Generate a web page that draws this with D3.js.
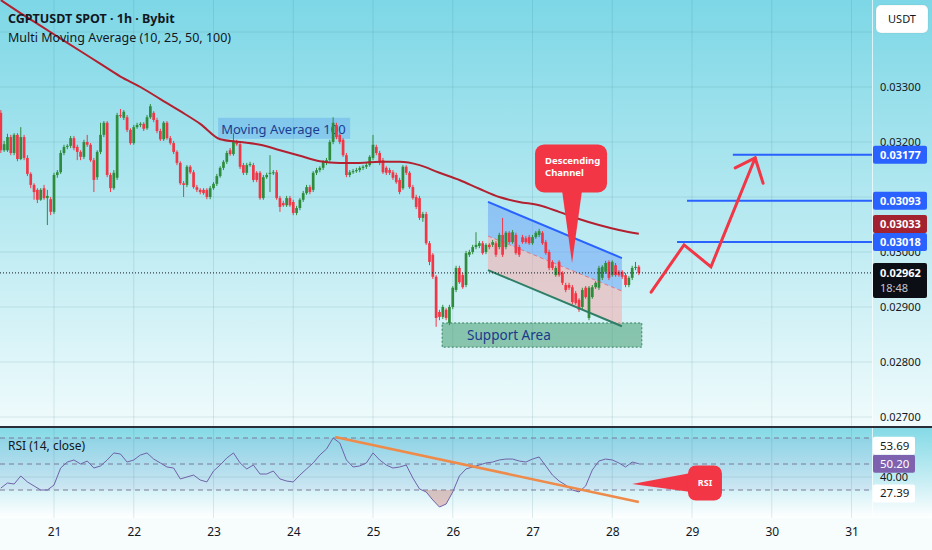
<!DOCTYPE html>
<html>
<head>
<meta charset="utf-8">
<script src="https://cdn.jsdelivr.net/npm/d3@7"></script>
<style>
  html, body { margin: 0; padding: 0; background: #fff; }
  svg { display: block; font-family: "Noto Sans", sans-serif; }
</style>
</head>
<body>
<svg id="chart" width="932" height="550"></svg>
<script>
// all prices are in units of 0.00001 USDT, one candle per hour from the 20th, 08:00
const firstCandle = Date.UTC(2025, 6, 20, 8);

const opens = [
  3253,3185,3185,3209,3180,3213,3169,3209,3171,3142,
  3122,3113,3095,3116,3098,3096,3073,3140,3145,3180,
  3191,3193,3207,3191,3182,3173,3200,3195,3167,3136,
  3182,3213,3235,3140,3116,3135,3249,3244,3245,3222,
  3198,3227,3231,3233,3225,3245,3253,3240,3220,3205,
  3235,3207,3198,3182,3162,3125,3122,3155,3145,3118,
  3113,3113,3113,3100,3116,3124,3138,3153,3164,3185,
  3178,3200,3196,3158,3144,3158,3158,3144,3144,3098,
  3136,3142,3144,3145,3098,3089,3085,3098,3091,3071,
  3080,3095,3107,3118,3113,3144,3149,3153,3162,3167,
  3200,3231,3213,3204,3176,3140,3145,3147,3149,3153,
  3155,3158,3171,3191,3180,3167,3153,3149,3145,3140,
  3131,3116,3155,3144,3118,3100,3098,3062,3069,3016,
  2995,2955,2891,2882,2895,2871,2900,2931,2971,2958,
  2940,2995,3000,3009,3011,3016,3000,3013,3013,3016,
  3009,3031,3009,3035,3018,3031,3009,3027,3025,3027,
  3016,3027,3031,3035,3018,3000,2982,2958,2982,2962,
  2940,2940,2936,2925,2913,2900,2935,2880,2918,2936,
  2935,2953,2964,2982,2958,2976,2964,2964,2958,2940,
  2953,2971,2973
];
const closes = [
  3185,3196,3209,3180,3213,3169,3209,3171,3142,3122,
  3109,3095,3113,3098,3102,3073,3140,3145,3180,3191,
  3193,3207,3189,3182,3173,3200,3195,3167,3131,3182,
  3213,3235,3140,3116,3144,3249,3247,3255,3222,3198,
  3227,3231,3233,3224,3245,3265,3240,3220,3205,3235,
  3207,3198,3182,3162,3125,3122,3155,3145,3118,3113,
  3109,3107,3100,3116,3124,3138,3153,3164,3180,3178,
  3200,3196,3155,3144,3158,3160,3131,3131,3098,3136,
  3140,3144,3145,3098,3082,3085,3098,3085,3071,3080,
  3095,3107,3118,3109,3144,3149,3153,3164,3167,3200,
  3235,3209,3200,3176,3140,3145,3147,3149,3153,3155,
  3158,3173,3195,3180,3162,3145,3144,3144,3135,3127,
  3109,3155,3144,3118,3098,3082,3062,3069,3016,2982,
  2955,2880,2882,2900,2880,2900,2935,2971,2945,2936,
  2998,3000,3009,3013,3016,2998,3013,3009,3018,2995,
  3031,2995,3035,3018,3036,2998,2995,3018,3018,3016,
  3027,3035,3038,3016,2998,2971,2971,2971,2958,2944,
  2931,2935,2909,2907,2895,2931,2918,2935,2936,2944,
  2971,2973,2980,2953,2982,2958,2958,2955,2940,2953,
  2971,2973,2962
];
const highs = [
  3258,3202,3215,3213,3216,3216,3227,3213,3176,3145,
  3125,3116,3116,3122,3113,3100,3144,3149,3185,3195,
  3196,3211,3211,3195,3185,3204,3213,3198,3171,3185,
  3235,3238,3238,3144,3149,3253,3260,3258,3249,3225,
  3231,3235,3236,3236,3249,3269,3256,3244,3224,3238,
  3238,3211,3202,3185,3165,3129,3158,3158,3149,3122,
  3116,3116,3116,3120,3127,3142,3156,3167,3184,3189,
  3216,3204,3200,3162,3162,3164,3162,3147,3147,3140,
  3144,3176,3149,3149,3102,3093,3102,3102,3095,3084,
  3098,3111,3122,3122,3147,3153,3156,3167,3171,3204,
  3245,3235,3216,3207,3180,3149,3151,3153,3156,3158,
  3162,3176,3213,3195,3184,3171,3156,3153,3149,3144,
  3135,3158,3158,3147,3122,3104,3102,3073,3073,3020,
  2998,2958,2895,2904,2898,2904,2938,2975,2975,2962,
  3002,3004,3013,3036,3020,3020,3016,3016,3022,3020,
  3035,3062,3038,3038,3040,3035,3013,3031,3029,3031,
  3031,3038,3042,3038,3022,3004,2985,2975,2985,2965,
  2944,2944,2940,2929,2916,2935,2938,2938,2940,2947,
  2975,2976,2984,2985,2985,2980,2967,2967,2962,2956,
  2975,2982,2976
];
const lows = [
  3180,3182,3182,3176,3176,3165,3167,3167,3138,3116,
  3095,3089,3093,3095,3049,3067,3069,3135,3142,3176,
  3187,3189,3185,3167,3167,3169,3191,3164,3109,3131,
  3178,3209,3136,3109,3113,3131,3244,3240,3218,3195,
  3195,3224,3227,3220,3222,3242,3236,3216,3202,3202,
  3204,3195,3178,3158,3122,3100,3118,3142,3115,3109,
  3105,3104,3096,3096,3113,3120,3135,3149,3160,3175,
  3175,3193,3151,3140,3140,3155,3127,3127,3095,3095,
  3133,3109,3140,3095,3073,3082,3082,3082,3067,3067,
  3076,3091,3104,3105,3109,3140,3145,3149,3158,3164,
  3196,3205,3196,3173,3136,3136,3142,3144,3145,3149,
  3151,3155,3167,3176,3158,3142,3140,3140,3131,3124,
  3105,3113,3140,3115,3095,3078,3058,3055,3013,2976,
  2951,2864,2876,2878,2876,2867,2896,2927,2942,2933,
  2936,2991,2996,3005,3007,2995,2996,3005,3009,2991,
  3005,2991,3005,3015,3015,2995,2991,3015,3015,3013,
  3013,3024,3027,3013,2995,2967,2967,2955,2955,2940,
  2927,2931,2905,2904,2891,2896,2915,2876,2915,2933,
  2931,2949,2960,2949,2955,2955,2955,2951,2936,2936,
  2949,2967,2958
];

// Moving Average 100, read every 6 hours
const maValues = [
  3458,3434,3411,3388,3365,3342,3319,3300,3278,3256,
  3233,3205,3200,3195,3185,3175,3165,3162,3162,3164,
  3164,3158,3144,3131,3115,3100,3091,3085,3073,3060,
  3049,3040,3033
];

// RSI (14, close), read every 2 hours
const rsiValues = [
  31.5,35.4,34.6,40.8,36.2,33.1,30.0,30.0,33.8,46.9,
  51.5,53.1,50.0,52.3,46.9,48.5,53.1,58.5,57.7,51.5,
  53.1,56.9,58.5,53.8,50.8,47.7,46.9,38.5,40.0,41.5,
  37.7,36.2,44.6,49.2,54.6,58.5,50.8,46.2,49.2,42.3,
  42.3,44.6,38.5,36.9,36.2,41.5,46.2,50.8,56.9,61.5,
  70.0,66.2,53.1,47.7,48.5,50.8,58.5,53.1,49.2,46.9,
  47.7,49.2,39.2,30.8,28.5,22.3,16.9,19.2,28.5,40.8,
  46.2,47.7,49.2,50.8,51.5,53.1,53.8,53.8,52.3,51.5,
  53.8,55.4,48.5,41.5,36.9,33.8,30.0,28.5,33.1,45.4,
  52.3,53.8,53.1,50.8,47.7,51.5,50.2
];

const priceTicks = [2700, 2800, 2900, 3000, 3100, 3200, 3300, 3400];
const dayTicks = [21, 22, 23, 24, 25, 26, 27, 28, 29, 30, 31];
const rsiLevels = [70, 50, 30];
const rsiTicks = [40];

// drawings, anchored in (hours from first candle, price)
const targets = [[220.3, 3177], [206.5, 3093], [203.5, 3018]];
const projection = [[195.7, 2927], [205.6, 3013], [213.7, 2973], [227.0, 3171]];
const arrowWings = [[221.0, 3153], [229.4, 3125]];
const channelUpper = [[146.6, 3091], [186.9, 2989]];
const channelMiddle = [[146.6, 3029], [186.9, 2929]];
const channelLower = [[146.6, 2967], [186.9, 2865]];
const supportZone = [[132.8, 2871], [192.9, 2827]];
const maLabelAt = [65.7, 3224];
const channelCallout = { tip: [171.9, 2980], box: [171.6, 3152] };
const rsiTrend = [[100.6, 70.8], [192, 20.8]];
const rsiCallout = { tip: [190, 34.6], box: [211.9, 35.4] };

const lastPrice = 2962;
const priceTags = [
  { v: 3177, kind: "target" }, { v: 3093, kind: "target" },
  { v: 3033, kind: "ma" }, { v: 3018, kind: "target" },
  { v: 2962, kind: "last", sub: "18:48" }
];
const rsiTags = [{ v: 53.69, kind: "plain" }, { v: 50.20, kind: "rsi" }, { v: 27.39, kind: "plain" }];

// ---------- layout ----------
const W = 932, H = 550;
const plotR = 872;
const mainBottom = 426, rsiTop = 428, rsiBottom = 518;
const font = '"Noto Sans", sans-serif';
const ink = "#131722";
const green = "#2f8c3c", red = "#f23645", blue = "#2962ff";

const x = d3.scaleUtc()
  .domain([new Date(Date.UTC(2025, 6, 21)), new Date(Date.UTC(2025, 6, 31))])
  .range([54, 851.5]);
const xh = h => x(new Date(firstCandle + h * 3600e3));
const y = d3.scaleLinear().domain([2700, 3400]).range([417, 32]);
const ry = d3.scaleLinear().domain([30, 70]).range([490, 438]);
const fmtPrice = v => (v / 1e5).toFixed(5);

const svg = d3.select("#chart");
const defs = svg.append("defs");

function vGradient(id, stops) {
  const g = defs.append("linearGradient").attr("id", id)
    .attr("x1", 0).attr("x2", 0).attr("y1", 0).attr("y2", 1);
  stops.forEach(([o, c]) => g.append("stop").attr("offset", o).attr("stop-color", c));
}
vGradient("bgMain", [[0, "#7dd7e6"], [1, "#f0fbfc"]]);
vGradient("bgRsi", [[0, "#84dae6"], [0.6, "#c9eef4"], [1, "#ffffff"]]);

defs.append("clipPath").attr("id", "clipMain")
  .append("rect").attr("x", 0).attr("y", 0).attr("width", plotR).attr("height", mainBottom);
defs.append("clipPath").attr("id", "clipRsi")
  .append("rect").attr("x", 0).attr("y", rsiTop).attr("width", plotR).attr("height", rsiBottom - rsiTop);
defs.append("clipPath").attr("id", "clipOversold")
  .append("rect").attr("x", 0).attr("y", ry(30)).attr("width", plotR).attr("height", rsiBottom - ry(30));
defs.append("clipPath").attr("id", "clipOverbought")
  .append("rect").attr("x", 0).attr("y", rsiTop).attr("width", plotR).attr("height", ry(70) - rsiTop);

// backgrounds
svg.append("rect").attr("width", W).attr("height", mainBottom).attr("fill", "url(#bgMain)");
svg.append("rect").attr("y", rsiTop).attr("width", W).attr("height", rsiBottom - rsiTop).attr("fill", "url(#bgRsi)");
svg.append("rect").attr("y", rsiBottom).attr("width", W).attr("height", H - rsiBottom).attr("fill", "#f7fcfd");

// grid
const dayDate = d => new Date(Date.UTC(2025, 6, d));
const grid = svg.append("g").attr("stroke", "rgba(40,110,130,0.14)").attr("stroke-width", 1);
grid.selectAll("line.h").data(priceTicks).join("line")
  .attr("x1", 0).attr("x2", plotR).attr("y1", d => y(d)).attr("y2", d => y(d));
grid.selectAll("line.v").data(dayTicks).join("line")
  .attr("x1", d => x(dayDate(d))).attr("x2", d => x(dayDate(d)))
  .attr("y1", 0).attr("y2", rsiBottom);
grid.selectAll("line.r").data(rsiTicks).join("line")
  .attr("x1", 0).attr("x2", plotR).attr("y1", d => ry(d)).attr("y2", d => ry(d));

// ---------- main pane ----------
const main = svg.append("g").attr("clip-path", "url(#clipMain)");

// "Moving Average 100" text label (behind the candles)
const maLab = main.append("g").attr("transform", `translate(${xh(maLabelAt[0])},${y(maLabelAt[1])})`);
maLab.append("rect").attr("x", -1).attr("y", -11).attr("width", 132).attr("height", 21)
  .attr("fill", "rgba(70,150,235,0.32)");
maLab.append("text").attr("x", 2).attr("y", 5).attr("font-size", 13).attr("fill", "#1b3d8f")
  .text("Moving Average 100");

// support zone
main.append("rect")
  .attr("x", xh(supportZone[0][0])).attr("y", y(supportZone[0][1]))
  .attr("width", xh(supportZone[1][0]) - xh(supportZone[0][0]))
  .attr("height", y(supportZone[1][1]) - y(supportZone[0][1]))
  .attr("fill", "rgba(56,150,100,0.5)")
  .attr("stroke", "rgba(30,110,70,0.8)").attr("stroke-dasharray", "2,2");
main.append("text")
  .attr("x", xh(supportZone[0][0]) + 25).attr("y", (y(supportZone[0][1]) + y(supportZone[1][1])) / 2 + 5)
  .attr("font-size", 13.5).attr("fill", "#1a3a8c").text("Support Area");

// channel fills
const pt = p => [xh(p[0]), y(p[1])];
const poly = pts => "M" + pts.map(p => p.join(",")).join("L") + "Z";
main.append("path")
  .attr("d", poly([pt(channelUpper[0]), pt(channelUpper[1]), pt(channelMiddle[1]), pt(channelMiddle[0])]))
  .attr("fill", "rgba(110,165,245,0.55)");
main.append("path")
  .attr("d", poly([pt(channelMiddle[0]), pt(channelMiddle[1]), pt(channelLower[1]), pt(channelLower[0])]))
  .attr("fill", "rgba(245,172,172,0.55)");

// candles
const candles = opens.map((o, i) => ({ i, o, h: highs[i], l: lows[i], c: closes[i] }));
const cg = main.append("g");
cg.selectAll("line").data(candles).join("line")
  .attr("x1", d => xh(d.i)).attr("x2", d => xh(d.i))
  .attr("y1", d => y(d.h)).attr("y2", d => y(d.l))
  .attr("stroke", d => d.c >= d.o ? green : red).attr("stroke-width", 1);
cg.selectAll("rect").data(candles).join("rect")
  .attr("x", d => xh(d.i) - 1.35).attr("width", 2.7)
  .attr("y", d => y(Math.max(d.o, d.c)))
  .attr("height", d => Math.max(1, Math.abs(y(d.o) - y(d.c))))
  .attr("fill", d => d.c >= d.o ? green : red);

// MA 100
const maLine = d3.line().x(d => xh(d[0])).y(d => y(d[1])).curve(d3.curveMonotoneX);
main.append("path")
  .attr("d", maLine(maValues.map((v, k) => [k * 6, v])))
  .attr("fill", "none").attr("stroke", "#b3202f").attr("stroke-width", 2);

// channel lines
const seg = (g, p, stroke, w, dash) => g.append("line")
  .attr("x1", pt(p[0])[0]).attr("y1", pt(p[0])[1]).attr("x2", pt(p[1])[0]).attr("y2", pt(p[1])[1])
  .attr("stroke", stroke).attr("stroke-width", w).attr("stroke-dasharray", dash || null);
seg(main, channelUpper, blue, 2);
seg(main, channelMiddle, "rgba(242,54,69,0.55)", 1, "4,3");
seg(main, channelLower, "#2f7e66", 2);

// last price dotted line
main.append("line").attr("x1", 0).attr("x2", plotR).attr("y1", y(lastPrice)).attr("y2", y(lastPrice))
  .attr("stroke", ink).attr("stroke-width", 1).attr("stroke-dasharray", "1,2");

// target lines
main.selectAll("line.target").data(targets).join("line")
  .attr("x1", d => xh(d[0])).attr("x2", plotR)
  .attr("y1", d => y(d[1])).attr("y2", d => y(d[1]))
  .attr("stroke", blue).attr("stroke-width", 2);

// projected path arrow
const tip = projection[projection.length - 1];
main.append("path")
  .attr("d", d3.line()(projection.map(pt)))
  .attr("fill", "none").attr("stroke", red).attr("stroke-width", 3)
  .attr("stroke-linejoin", "miter").attr("stroke-linecap", "round");
main.append("path")
  .attr("d", d3.line()([pt(arrowWings[0]), pt(tip), pt(arrowWings[1])]))
  .attr("fill", "none").attr("stroke", red).attr("stroke-width", 3).attr("stroke-linecap", "round");

// "Descending Channel" callout
{
  const [bx, by] = pt(channelCallout.box);
  const [tx, ty] = pt(channelCallout.tip);
  const bw = 72, bh = 48;
  const g = main.append("g");
  g.append("path").attr("d", poly([[tx - 10, by + bh / 2 - 2], [tx, ty], [tx + 10, by + bh / 2 - 2]])).attr("fill", red);
  g.append("rect").attr("x", bx - bw / 2).attr("y", by - bh / 2).attr("width", bw).attr("height", bh)
    .attr("rx", 9).attr("fill", red);
  g.selectAll("text").data(["Descending", "Channel"]).join("text")
    .attr("x", bx - bw / 2 + 10).attr("y", (d, k) => by - bh / 2 + 20 + k * 12)
    .attr("font-size", 9.5).attr("font-weight", 700).attr("fill", "#fff").text(d => d);
}

// legend
svg.append("text").attr("x", 8).attr("y", 23).attr("font-size", 12.5).attr("font-weight", 700)
  .attr("fill", ink).text("CGPTUSDT SPOT · 1h · Bybit");
svg.append("text").attr("x", 8).attr("y", 42).attr("font-size", 12.5)
  .attr("fill", ink).text("Multi Moving Average (10, 25, 50, 100)");

// ---------- RSI pane ----------
const rsi = svg.append("g").attr("clip-path", "url(#clipRsi)");
rsi.append("rect").attr("x", 0).attr("width", plotR).attr("y", ry(70)).attr("height", ry(30) - ry(70))
  .attr("fill", "rgba(126,87,194,0.07)");
rsi.selectAll("line.lvl").data(rsiLevels).join("line")
  .attr("x1", 0).attr("x2", plotR).attr("y1", d => ry(d)).attr("y2", d => ry(d))
  .attr("stroke", "#787b9a").attr("stroke-width", 1).attr("stroke-dasharray", "5,4");

const rsiPts = rsiValues.map((v, k) => [k * 2, v]);
const rsiArea = d3.area().x(d => xh(d[0])).y1(d => ry(d[1]));
rsi.append("path").attr("clip-path", "url(#clipOversold)")
  .attr("d", rsiArea.y0(ry(30))(rsiPts)).attr("fill", "rgba(205,120,110,0.4)");
rsi.append("path").attr("clip-path", "url(#clipOverbought)")
  .attr("d", rsiArea.y0(ry(70))(rsiPts)).attr("fill", "rgba(8,153,129,0.3)");
rsi.append("path")
  .attr("d", d3.line().x(d => xh(d[0])).y(d => ry(d[1]))(rsiPts))
  .attr("fill", "none").attr("stroke", "#6f63a8").attr("stroke-width", 1);

rsi.append("line")
  .attr("x1", xh(rsiTrend[0][0])).attr("y1", ry(rsiTrend[0][1]))
  .attr("x2", xh(rsiTrend[1][0])).attr("y2", ry(rsiTrend[1][1]))
  .attr("stroke", "#ee8a4a").attr("stroke-width", 2.5);

{
  const bx = xh(rsiCallout.box[0]), by = ry(rsiCallout.box[1]);
  const tx = xh(rsiCallout.tip[0]), ty = ry(rsiCallout.tip[1]);
  const bw = 34, bh = 35;
  rsi.append("path").attr("d", poly([[bx - bw / 2 + 3, by - 10], [tx, ty], [bx - bw / 2 + 3, by + 9]])).attr("fill", red);
  rsi.append("rect").attr("x", bx - bw / 2).attr("y", by - bh / 2).attr("width", bw).attr("height", bh)
    .attr("rx", 8).attr("fill", red);
  rsi.append("text").attr("x", bx).attr("y", by + 3.5).attr("text-anchor", "middle")
    .attr("font-size", 9).attr("font-weight", 700).attr("fill", "#fff").text("RSI");
}

svg.append("text").attr("x", 8).attr("y", 450).attr("font-size", 12).attr("fill", ink).text("RSI (14, close)");

// ---------- separators ----------
svg.append("line").attr("x1", plotR + 0.5).attr("x2", plotR + 0.5).attr("y1", 0).attr("y2", rsiBottom)
  .attr("stroke", "rgba(255,255,255,0.7)");
svg.append("line").attr("x1", 0).attr("x2", W).attr("y1", 427).attr("y2", 427)
  .attr("stroke", "#2a2e39").attr("stroke-width", 2);

// ---------- axes ----------
const styleAxis = g => {
  g.select(".domain").remove();
  g.selectAll("text").attr("fill", ink).attr("font-family", font);
};
// tick labels sitting right under a tag are hidden, as the platform does
const shownPriceTicks = priceTicks.filter(v => v < 3400 && !priceTags.some(t => Math.abs(y(t.v) - y(v)) < 6));
svg.append("g").attr("transform", `translate(${plotR},0)`)
  .call(d3.axisRight(y).tickValues(shownPriceTicks).tickFormat(fmtPrice).tickSize(0).tickPadding(8))
  .call(styleAxis).selectAll("text").attr("font-size", 11);
svg.append("g").attr("transform", `translate(${plotR},0)`)
  .call(d3.axisRight(ry).tickValues(rsiTicks).tickFormat(d => d.toFixed(2)).tickSize(0).tickPadding(8))
  .call(styleAxis).selectAll("text").attr("font-size", 11);
svg.append("g").attr("transform", `translate(0,${rsiBottom})`)
  .call(d3.axisBottom(x).tickValues(dayTicks.map(dayDate))
    .tickFormat(d3.utcFormat("%-d")).tickSize(0).tickPadding(9))
  .call(styleAxis).selectAll("text").attr("font-size", 12);

// axis tags, pushed upward where they would overlap
function placeTags(tags, scale, half) {
  const out = tags.map(t => ({ ...t, yc: scale(t.v) })).sort((a, b) => b.yc - a.yc);
  let limit = Infinity;
  out.forEach(t => {
    const [up, down] = half(t);
    if (t.yc + down > limit) t.yc = limit - down;
    limit = t.yc - up;
  });
  return out;
}
const tagFill = { target: blue, ma: "#a3222f", last: "#0c0e15", rsi: "#7e62b0", plain: "#ffffff" };

placeTags(priceTags, y, t => t.kind === "last" ? [10, 25] : [9, 9]).forEach(t => {
  const g = svg.append("g").attr("transform", `translate(${plotR + 1},${t.yc})`);
  g.append("rect").attr("x", 0).attr("y", t.kind === "last" ? -10 : -9).attr("width", 54)
    .attr("height", t.kind === "last" ? 35 : 18).attr("rx", 2).attr("fill", tagFill[t.kind]);
  g.append("text").attr("x", 7).attr("y", 4).attr("font-size", 11).attr("font-weight", 700)
    .attr("fill", "#fff").text(fmtPrice(t.v));
  if (t.sub) g.append("text").attr("x", 7).attr("y", 19).attr("font-size", 11)
    .attr("fill", "#c3c6d0").text(t.sub);
});

placeTags(rsiTags, ry, () => [9, 9]).forEach(t => {
  const g = svg.append("g").attr("transform", `translate(${plotR + 1},${t.yc})`);
  g.append("rect").attr("x", 0).attr("y", -9).attr("width", 42).attr("height", 18).attr("rx", 2)
    .attr("fill", tagFill[t.kind]);
  g.append("text").attr("x", 7).attr("y", 4).attr("font-size", 11.5)
    .attr("fill", t.kind === "plain" ? ink : "#fff").text(t.v.toFixed(2));
});

// currency button
const btn = svg.append("g").attr("transform", "translate(876,5)");
btn.append("rect").attr("width", 52).attr("height", 28).attr("rx", 5)
  .attr("fill", "#fff").attr("stroke", "rgba(0,0,0,0.06)");
btn.append("text").attr("x", 26).attr("y", 18).attr("text-anchor", "middle")
  .attr("font-size", 11).attr("fill", ink).text("USDT");
</script>
</body>
</html>
